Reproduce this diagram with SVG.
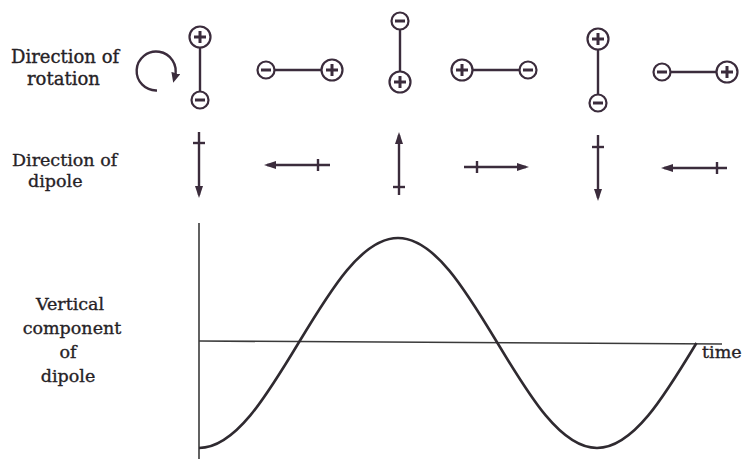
<svg xmlns="http://www.w3.org/2000/svg" width="742" height="459" viewBox="0 0 742 459">
<defs>
<style>
.lbl{font-family:"DejaVu Serif","Liberation Serif",serif;font-size:17.5px;fill:#262226;stroke:#262226;stroke-width:0.35}
.ink{stroke:#3b2c3c;fill:none;stroke-width:2.4}
.bond{stroke:#3b2c3c;stroke-width:2.4}
.atom{stroke:#3b2c3c;stroke-width:2.2;fill:#fff}
.sign{stroke:#3b2c3c;stroke-width:3;stroke-linecap:butt}
.arr{stroke:#3b2c3c;stroke-width:2.4;fill:none}
.curve{stroke:#2f2a30;stroke-width:2.6;fill:none}
.axis{stroke:#3a3a3a;stroke-width:1.6;fill:none}
</style>
<marker id="head" markerUnits="userSpaceOnUse" markerWidth="12" markerHeight="8" refX="9" refY="4" orient="auto">
<path d="M0,0 L12,4 L0,8 z" fill="#3b2c3c"/>
</marker>
<marker id="rothead" markerUnits="userSpaceOnUse" markerWidth="10" markerHeight="9" refX="3" refY="4.5" orient="auto">
<path d="M0,0 L10,4.5 L0,9 z" fill="#3b2c3c"/>
</marker>
<g id="plus"><circle class="atom" r="10.5"/><line class="sign" x1="-6" y1="0" x2="6" y2="0"/><line class="sign" x1="0" y1="-6" x2="0" y2="6"/></g>
<g id="minus"><circle class="atom" r="8.5"/><line class="sign" x1="-5" y1="0" x2="5" y2="0"/></g>
</defs>
<rect width="742" height="459" fill="#ffffff"/>

<g id="label-rotation" class="lbl">
<text x="11" y="63" font-size="18">Direction of</text>
<text x="27" y="85" font-size="18">rotation</text>
</g>
<g id="rotation-arrow">
<path class="ink" d="M157 90.5 A19.5 19.5 0 1 1 175 76" marker-end="url(#rothead)"/>
</g>

<g id="label-dipole-direction" class="lbl">
<text x="12" y="166">Direction of</text>
<text x="28" y="187">dipole</text>
</g>

<g id="label-vertical" class="lbl" text-anchor="middle">
<text x="70" y="310">Vertical</text>
<text x="72" y="334">component</text>
<text x="68" y="358">of</text>
<text x="68" y="382">dipole</text>
</g>

<g id="dipole1"><line class="bond" x1="200" y1="47" x2="200" y2="92"/><use href="#plus" x="200" y="37"/><use href="#minus" x="200" y="100"/></g>
<g id="dipole2"><line class="bond" x1="275" y1="70" x2="322" y2="70"/><use href="#minus" x="266" y="70"/><use href="#plus" x="332" y="70"/></g>
<g id="dipole3"><line class="bond" x1="400" y1="29" x2="400" y2="72"/><use href="#minus" x="400" y="21"/><use href="#plus" x="400" y="82"/></g>
<g id="dipole4"><line class="bond" x1="472" y1="70" x2="520" y2="70"/><use href="#plus" x="462" y="70"/><use href="#minus" x="528" y="70"/></g>
<g id="dipole5"><line class="bond" x1="598" y1="49" x2="598" y2="95"/><use href="#plus" x="598" y="39"/><use href="#minus" x="598" y="103"/></g>
<g id="dipole6"><line class="bond" x1="670" y1="72" x2="717" y2="72"/><use href="#minus" x="662" y="72"/><use href="#plus" x="727" y="72"/></g>

<g id="arrow1"><line class="arr" x1="199" y1="132" x2="199" y2="195" marker-end="url(#head)"/><line class="arr" x1="193" y1="143" x2="205" y2="143"/></g>
<g id="arrow2"><line class="arr" x1="330" y1="165" x2="267" y2="165" marker-end="url(#head)"/><line class="arr" x1="318" y1="159" x2="318" y2="171"/></g>
<g id="arrow3"><line class="arr" x1="399" y1="195" x2="399" y2="135" marker-end="url(#head)"/><line class="arr" x1="393" y1="187" x2="405" y2="187"/></g>
<g id="arrow4"><line class="arr" x1="464" y1="167" x2="526" y2="167" marker-end="url(#head)"/><line class="arr" x1="477" y1="161" x2="477" y2="173"/></g>
<g id="arrow5"><line class="arr" x1="598" y1="135" x2="598" y2="198" marker-end="url(#head)"/><line class="arr" x1="592" y1="147" x2="604" y2="147"/></g>
<g id="arrow6"><line class="arr" x1="727" y1="168" x2="664" y2="168" marker-end="url(#head)"/><line class="arr" x1="717" y1="162" x2="717" y2="174"/></g>

<g id="graph">
<line class="axis" x1="199" y1="223" x2="199" y2="459"/>
<line class="axis" x1="199" y1="341" x2="722" y2="344"/>
<path class="curve" d="M199 448 C235 448 266.1 396.8 298.5 343 C330.9 289.2 362 238 398 238 C434 238 465.1 289.2 497.5 343 C529.9 396.8 561 448 597 448 C633 448 664.1 396.8 696.5 343"/>
<text class="lbl" x="702" y="358">time</text>
</g>
</svg>
